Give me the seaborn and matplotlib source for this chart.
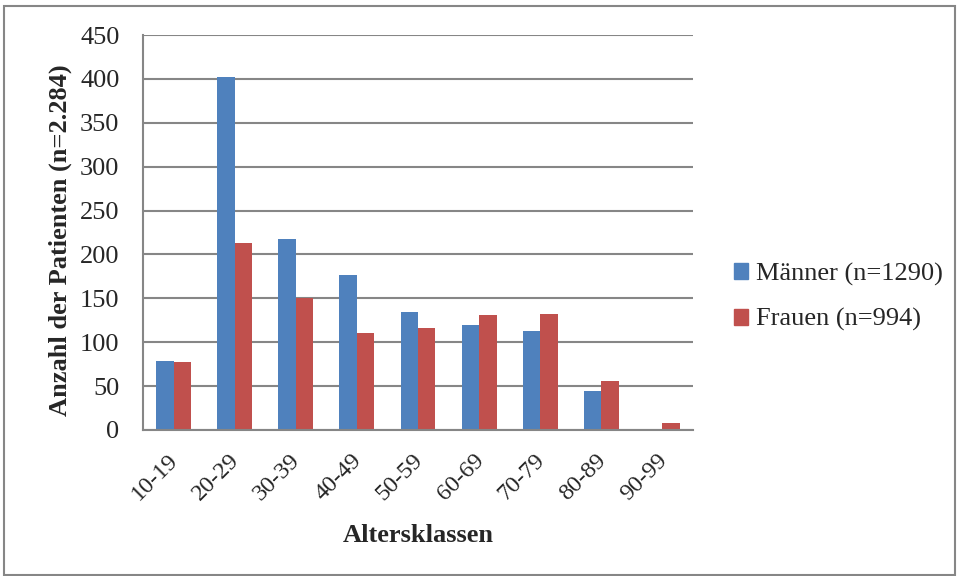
import matplotlib
matplotlib.use("Agg")
import matplotlib.pyplot as plt
import matplotlib.patches as mpatches
import matplotlib.transforms as mtransforms
import seaborn as sns
import pandas as pd
import numpy as np

categories = ["10-19", "20-29", "30-39", "40-49", "50-59", "60-69", "70-79", "80-89", "90-99"]
maenner = [79, 402, 218, 177, 135, 120, 113, 45, 0]
frauen = [77, 213, 150, 111, 116, 131, 132, 56, 8]
series_names = ["Männer (n=1290)", "Frauen (n=994)"]
colors = ["#4F81BD", "#C0504D"]

df = pd.DataFrame({
    "Altersklasse": categories * 2,
    "Anzahl": maenner + frauen,
    "Gruppe": [series_names[0]] * len(categories) + [series_names[1]] * len(categories),
})

sns.set_style("white")
plt.rcParams["font.family"] = ["Liberation Serif", "DejaVu Serif"]

fig = plt.figure(figsize=(9.59, 5.76), dpi=100)
ax = fig.add_axes([143 / 959, 1 - 430 / 576, 550 / 959, 395 / 576])

sns.barplot(data=df, x="Altersklasse", y="Anzahl", hue="Gruppe",
            palette=colors, width=0.5714, saturation=1, ax=ax,
            legend=False, edgecolor="none", linewidth=0)

grid_c = "#868686"
ax.set_ylim(0, 450)
ax.set_xlim(-0.5, len(categories) - 0.5)
ax.set_yticks(np.arange(0, 451, 50))
ax.yaxis.grid(True, color=grid_c, linewidth=1.5)
ax.set_axisbelow(True)
for s in ["top", "right"]:
    ax.spines[s].set_visible(False)
for s in ["left", "bottom"]:
    ax.spines[s].set_color(grid_c)
    ax.spines[s].set_linewidth(1.5)

# category boundary ticks below the x axis
ax.set_xticks(np.arange(-0.5, len(categories), 1.0), minor=True)
ax.tick_params(axis="x", which="minor", length=6, width=1.5, color=grid_c, direction="out")
ax.tick_params(axis="x", which="major", length=0, pad=10)
ax.tick_params(axis="y", which="major", length=6, width=1.5, color=grid_c, direction="out",
               labelsize=19, pad=11)
ax.set_xticks(range(len(categories)))
ax.set_xticklabels(categories, rotation=45, ha="right", rotation_mode="anchor", fontsize=17.5)
shift = mtransforms.ScaledTranslation(-6 / 100, -6 / 100, fig.dpi_scale_trans)
for lbl in ax.get_xticklabels():
    lbl.set_transform(lbl.get_transform() + shift)

ax.set_xlabel("")
ax.set_ylabel("")
fig.text(418 / 959, 1 - 535 / 576, "Altersklassen", fontsize=19, fontweight="bold",
         ha="center", va="center")
fig.text(60 / 959, 1 - 240 / 576, "Anzahl der Patienten (n=2.284)", fontsize=19,
         fontweight="bold", rotation=90, ha="center", va="center")

handles = [mpatches.Patch(color=c, label=n) for c, n in zip(colors, series_names)]
fig.legend(handles=handles, loc="center left", bbox_to_anchor=(723 / 959, 1 - 297 / 576),
           frameon=False, fontsize=19, handlelength=0.55, handleheight=0.55,
           handletextpad=0.3, labelspacing=0.85, borderaxespad=0)

# outer chart frame
fig.patches.append(mpatches.Rectangle((4 / 959, 1 / 576), 951 / 959, 569 / 576,
                                      transform=fig.transFigure, fill=False,
                                      edgecolor="#868686", linewidth=1.5))

fig.savefig("out.png", dpi=100)
